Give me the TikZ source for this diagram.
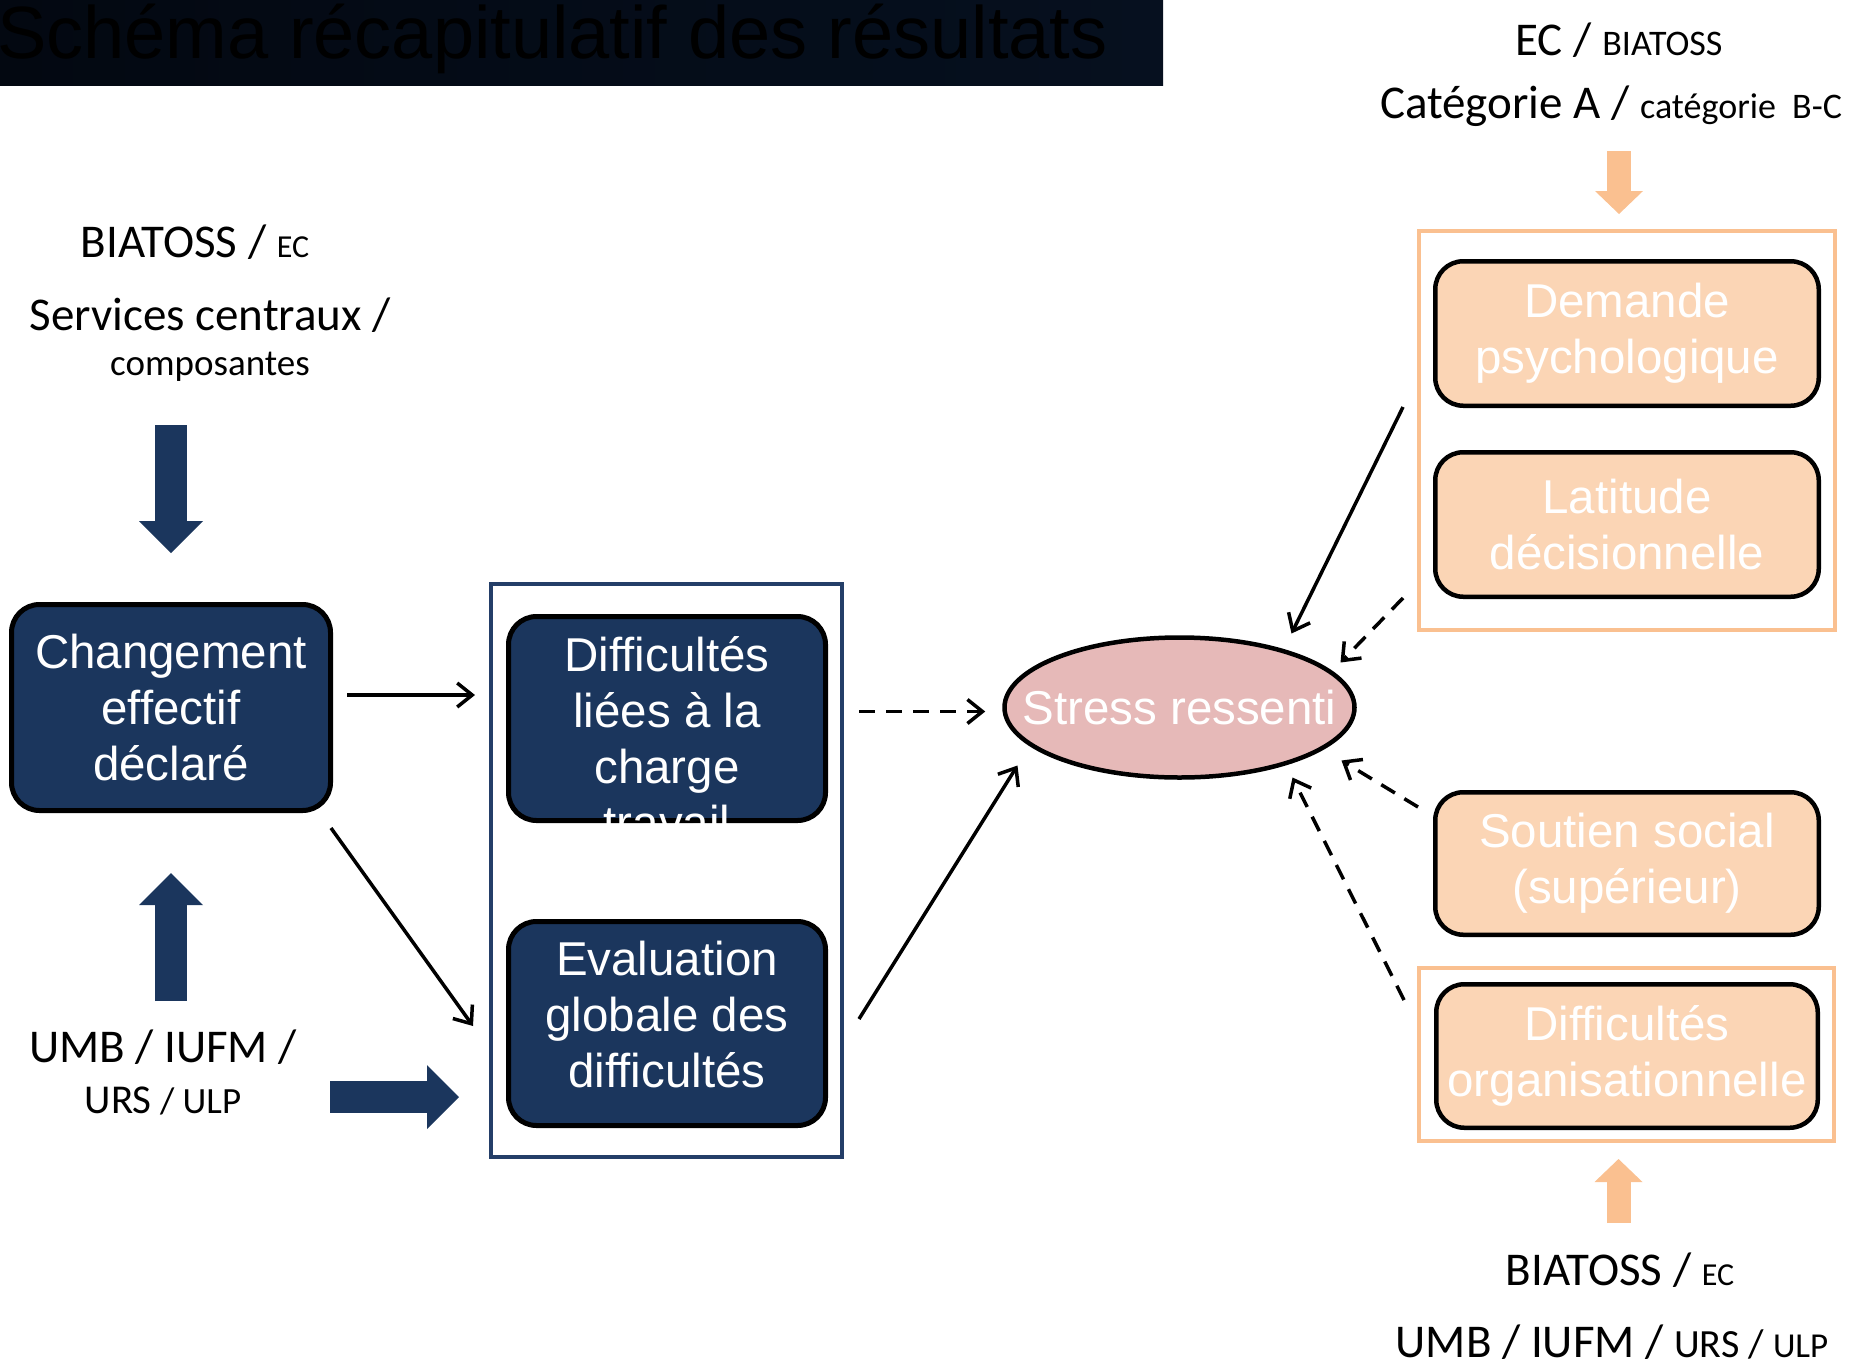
\documentclass[tikz,border=0pt]{standalone}
\usepackage{fontspec}
\setmainfont{Carlito}
\newfontfamily\arialfont{Liberation Sans}
\usetikzlibrary{positioning,calc,arrows.meta,shapes.geometric}

\definecolor{navyfill}{RGB}{27,54,93}
\definecolor{navyline}{RGB}{36,62,104}
\definecolor{peachfill}{RGB}{251,213,181}
\definecolor{orangeline}{RGB}{250,192,144}
\definecolor{stressfill}{RGB}{230,185,184}
\definecolor{barleft}{RGB}{3,8,17}
\definecolor{barright}{RGB}{6,16,31}

\newcommand*{\boxtext}{\arialfont\fontsize{47.5}{56}\selectfont}
\newcommand*{\bigtext}{\fontsize{47}{56}\selectfont}
\newcommand*{\midtext}{\fontsize{37}{44}\selectfont}
\newcommand*{\smalltext}{\fontsize{32}{38}\selectfont}
\newcommand*{\toptext}{\fontsize{36}{42}\selectfont}

\tikzset{
  navybox/.style={draw, line width=5pt, rounded corners=28pt, fill=navyfill, text=white, font=\boxtext, align=center, inner sep=0pt},
  peachbox/.style={draw, line width=4.5pt, rounded corners=28pt, fill=peachfill, text=white, font=\boxtext, align=center, inner sep=0pt, minimum width=383.5pt, minimum height=144.5pt},
  grouprect/.style={draw, line width=4pt, inner sep=0pt},
  caption/.style={anchor=base, font=\bigtext, inner sep=0pt},
  thinarrow/.style={line width=3.5pt, -{Straight Barb[length=15pt,width=24pt]}},
  dasharrow/.style={thinarrow, dash pattern=on 16pt off 11pt},
  navyblock/.style={draw=navyfill, line width=32pt, -{Triangle[length=32pt 0 0,width=64pt 0 0,line width=0pt 0 0]}},
  orangeblock/.style={draw=orangeline, line width=24pt, -{Triangle[length=23pt 0 0,width=48pt 0 0,line width=0pt 0 0]}}
}

\begin{document}
\begin{tikzpicture}[x=1pt,y=-1pt]
\useasboundingbox (0,0) rectangle (1855,1368);
\shade[left color=barleft, right color=barright] (0,0) rectangle (1163,85);
\node (title) [anchor=base west, inner sep=0pt, font=\arialfont\fontsize{74}{80}\selectfont, text=black] at (-3,58) {Schéma récapitulatif des résultats};

\node (biaL) [caption] at (195,257) {BIATOSS / {\smalltext EC}};
\node (servL) [caption] at (210,330) {Services centraux /};
\node (compL) [caption, font=\midtext] at (210,375) {composantes};
\node (chg) [navybox, minimum width=319pt, minimum height=206pt] at (171,707.5) {Changement\\effectif\\déclaré};
\node (umbL) [caption] at (163,1062) {UMB / IUFM /};
\node (ursL) [caption, font=\midtext] at (163,1113) {{\fontsize{41}{48}\selectfont URS} / ULP};

\node (grp) [grouprect, draw=navyline, minimum width=351pt, minimum height=573pt] at (666.5,870.5) {};
\node (charge) [navybox, minimum width=317pt, minimum height=204pt] at (667,718.5) {};
\node (chargetxt) [text=white, font=\boxtext, align=center, inner sep=0pt] at (667,738.5) {Difficultés\\liées à la\\charge\\travail};
\node (eval) [navybox, minimum width=317pt, minimum height=204pt] at (667,1023.5) {};
\node (evaltxt) [text=white, font=\boxtext, align=center, inner sep=0pt] at (667,1014.5) {Evaluation\\globale des\\difficultés};

\node (stress) [ellipse, draw, line width=4.5pt, fill=stressfill, minimum width=350pt, minimum height=140pt, inner sep=0pt, label={[text=white, font=\boxtext]center:Stress ressenti}] at (1179.5,707.5) {};

\node (ecT) [caption] at (1619,55) {EC / {\toptext BIATOSS}};
\node (catT) [caption] at (1611,118) {Catégorie A / {\toptext catégorie\ \ B-C}};
\node (topgrp) [grouprect, draw=orangeline, minimum width=416pt, minimum height=399pt] at (1627,430.5) {};
\node (dem) [peachbox] at (1627,333.5) {Demande\\psychologique};
\node (lat) [peachbox, below=42pt of dem] {Latitude\\décisionnelle};
\node (sout) [peachbox, minimum height=142.5pt] at (1627,863.5) {Soutien social\\(supérieur)};
\node (botgrp) [grouprect, draw=orangeline, minimum width=415pt, minimum height=173pt] at (1626.5,1054.5) {};
\node (org) [peachbox, minimum width=381.5pt, minimum height=143.5pt] at (1627,1056) {Difficultés\\organisationnelle};
\node (biaB) [caption] at (1620,1285) {BIATOSS / {\smalltext EC}};
\node (umbB) [caption] at (1612,1357) {UMB / IUFM / {\fontsize{40}{47}\selectfont URS / {\fontsize{35}{42}\selectfont ULP}}};

\draw[navyblock] ($(chg.north |- compL.base)+(0,50)$) -- ($(chg.north)+(0,-49)$);
\draw[navyblock] ($(chg.south |- umbL.base)+(0,-61)$) -- ($(chg.south)+(0,60)$);
\draw[navyblock] ($(umbL.east |- ursL.base)+(33,-16)$) -- ($(grp.west |- ursL.base)+(-30,-16)$);
\draw[orangeblock] ($(topgrp.north |- catT.base)+(-8,33)$) -- ($(topgrp.north)+(-8,-15)$);
\draw[orangeblock] ($(botgrp.south |- biaB.base)+(-8,-62)$) -- ($(botgrp.south)+(-8,16)$);

\draw[thinarrow] ($(chg.east)+(14,-12.5)$) -- ($(grp.west |- chg.east)+(-14,-12.5)$);
\draw[thinarrow] ($(chg.south east)+(-2,15)$) -- ($(grp.west |- eval.west)+(-16,2.5)$);
\draw[dasharrow] ($(grp.east |- stress.west)+(15,4)$) -- ($(stress.west)+(-17,4)$);
\draw[thinarrow] ($(eval.east)+(31,-4.5)$) -- ($(stress.center)+(-162,58)$);
\draw[thinarrow] ($(dem.south west)+(-30,-1)$) -- ($(stress.center)+(112,-74)$);
\draw[dasharrow] ($(lat.south west)+(-30,-1)$) -- ($(stress.center)+(161,-45)$);
\draw[dasharrow] ($(sout.north west)+(-15,17)$) -- ($(stress.center)+(162,53)$);
\draw[dasharrow] ($(org.north west)+(-30,18)$) -- ($(stress.center)+(113,70)$);
\end{tikzpicture}
\end{document}
